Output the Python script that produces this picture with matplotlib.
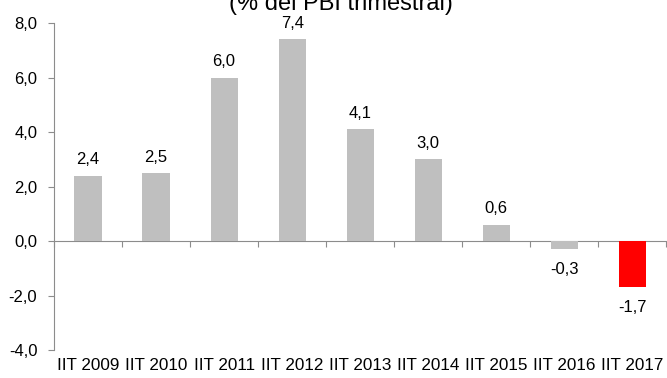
import matplotlib.pyplot as plt

plt.rcParams['font.family'] = ['Liberation Sans', 'DejaVu Sans']

periods = ['IIT 2009', 'IIT 2010', 'IIT 2011', 'IIT 2012', 'IIT 2013',
           'IIT 2014', 'IIT 2015', 'IIT 2016', 'IIT 2017']
values = [2.4, 2.5, 6.0, 7.4, 4.1, 3.0, 0.6, -0.3, -1.7]
yticks = [-4, -2, 0, 2, 4, 6, 8]

gray = '#bfbfbf'
axcol = '#8c8c8c'
colors = [gray] * (len(values) - 1) + ['#ff0000']

fig = plt.figure(figsize=(6.67, 3.78), dpi=100)
ax = fig.add_axes([0.081, 0.074, 0.918, 0.865])

x = list(range(len(values)))
ax.bar(x, values, width=0.4, color=colors)

for xi, v in zip(x, values):
    off = 6 if v >= 0 else -9
    ax.annotate(f'{v:.1f}'.replace('.', ','), (xi, v), xytext=(0, off),
                textcoords='offset points', ha='center',
                va='bottom' if v >= 0 else 'top', fontsize=12)

ax.set_xlim(-0.5, len(values) - 0.5)
ax.set_ylim(-4, 8)
ax.set_yticks(yticks)
ax.set_yticklabels([f'{t:.1f}'.replace('.', ',') for t in yticks], fontsize=12)
ax.set_xticks(x)
ax.set_xticklabels(periods, fontsize=12.3)
ax.tick_params(axis='x', length=0, pad=6)
ax.tick_params(axis='y', length=4, color=axcol, pad=8)

for s in ['top', 'right', 'bottom']:
    ax.spines[s].set_visible(False)
ax.spines['left'].set_color(axcol)

# zero line with category separators
zero = ax.secondary_xaxis(4 / 12)
zero.set_xticks([i - 0.5 for i in range(len(values) + 1)])
zero.set_xticklabels([])
zero.tick_params(direction='out', length=4, color=axcol)
zero.spines['bottom'].set_color(axcol)

fig.text(0.511, 0.9735, '(% del PBI trimestral)', ha='center', va='baseline',
         fontsize=17)

fig.savefig('out.png', dpi=100)
